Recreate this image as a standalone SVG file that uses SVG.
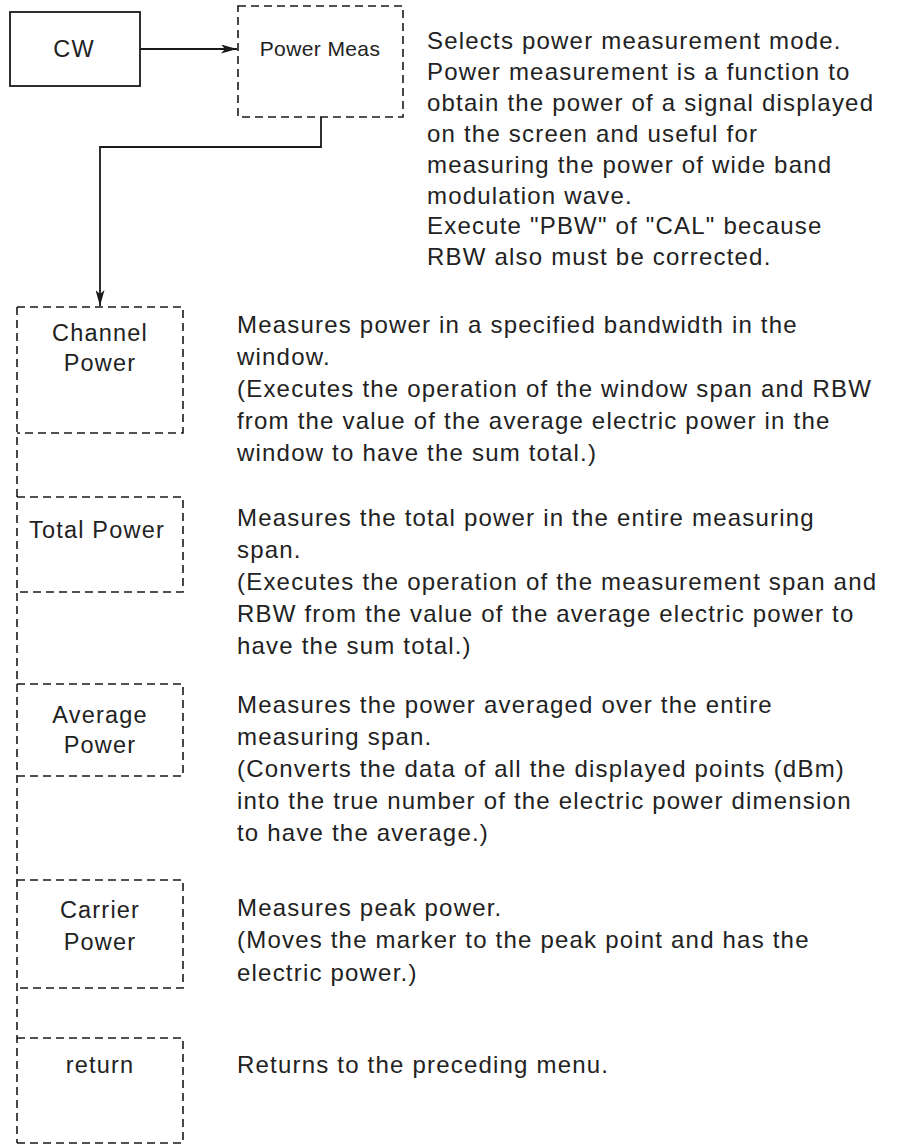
<svg xmlns="http://www.w3.org/2000/svg" width="897" height="1144" viewBox="0 0 897 1144">
<style>
.bg{fill:#fff}
.solid{fill:none;stroke:#1a1a1a;stroke-width:1.8}
.dash{fill:none;stroke:#1a1a1a;stroke-width:1.6;stroke-dasharray:8 5}
.lbl{font-family:"Liberation Sans",Arial,sans-serif;font-size:23.5px;fill:#222;text-anchor:middle;letter-spacing:1.2px}
.lbls{font-family:"Liberation Sans",Arial,sans-serif;font-size:21px;fill:#222;text-anchor:middle;letter-spacing:0.4px}
.desc{font-family:"Liberation Sans",Arial,sans-serif;font-size:24px;fill:#222;letter-spacing:1.2px}
.line{fill:none;stroke:#1a1a1a;stroke-width:1.8}
</style>
<defs>
<marker id="ah" viewBox="0 0 16 9" refX="16" refY="4.5" markerWidth="16" markerHeight="9" markerUnits="userSpaceOnUse" orient="auto">
<path d="M0,0 L16,4.5 L0,9 L4,4.5 Z" fill="#1a1a1a"/>
</marker>
</defs>
<rect class="bg" x="0" y="0" width="897" height="1144"/>

<g id="connectors">
<line class="line" x1="140" y1="49" x2="237" y2="49" marker-end="url(#ah)"/>
<polyline class="line" points="321,117 321,147 100,147 100,306" marker-end="url(#ah)"/>
<line class="dash" x1="17" y1="307" x2="17" y2="1143"/>
</g>

<g id="node-cw">
<rect class="solid" x="10" y="12" width="130" height="74"/>
<text class="lbl" x="74" y="57">CW</text>
</g>

<g id="node-power-meas">
<rect class="dash" x="238" y="6" width="165" height="111"/>
<text class="lbls" x="320" y="56">Power Meas</text>
</g>
<g id="desc-power-meas">
<text class="desc" x="427" y="49">Selects power measurement mode.</text>
<text class="desc" x="427" y="80">Power measurement is a function to</text>
<text class="desc" x="427" y="111">obtain the power of a signal displayed</text>
<text class="desc" x="427" y="142">on the screen and useful for</text>
<text class="desc" x="427" y="173">measuring the power of wide band</text>
<text class="desc" x="427" y="204">modulation wave.</text>
<text class="desc" x="427" y="234">Execute "PBW" of "CAL" because</text>
<text class="desc" x="427" y="265">RBW also must be corrected.</text>
</g>

<g id="node-channel-power">
<path class="dash" d="M17,307 H183 V433 H17"/>
<text class="lbl" x="100" y="341">Channel</text>
<text class="lbl" x="100" y="371">Power</text>
</g>
<g id="desc-channel-power">
<text class="desc" x="237" y="333">Measures power in a specified bandwidth in the</text>
<text class="desc" x="237" y="365">window.</text>
<text class="desc" x="237" y="397">(Executes the operation of the window span and RBW</text>
<text class="desc" x="237" y="429">from the value of the average electric power in the</text>
<text class="desc" x="237" y="461">window to have the sum total.)</text>
</g>

<g id="node-total-power">
<path class="dash" d="M17,497 H183 V592 H17"/>
<text class="lbl" x="97" y="538">Total Power</text>
</g>
<g id="desc-total-power">
<text class="desc" x="237" y="526">Measures the total power in the entire measuring</text>
<text class="desc" x="237" y="558">span.</text>
<text class="desc" x="237" y="590">(Executes the operation of the measurement span and</text>
<text class="desc" x="237" y="622">RBW from the value of the average electric power to</text>
<text class="desc" x="237" y="654">have the sum total.)</text>
</g>

<g id="node-average-power">
<path class="dash" d="M17,684 H183 V776 H17"/>
<text class="lbl" x="100" y="723">Average</text>
<text class="lbl" x="100" y="753">Power</text>
</g>
<g id="desc-average-power">
<text class="desc" x="237" y="713">Measures the power averaged over the entire</text>
<text class="desc" x="237" y="745">measuring span.</text>
<text class="desc" x="237" y="777">(Converts the data of all the displayed points (dBm)</text>
<text class="desc" x="237" y="809">into the true number of the electric power dimension</text>
<text class="desc" x="237" y="841">to have the average.)</text>
</g>

<g id="node-carrier-power">
<path class="dash" d="M17,880 H183 V988 H17"/>
<text class="lbl" x="100" y="918">Carrier</text>
<text class="lbl" x="100" y="950">Power</text>
</g>
<g id="desc-carrier-power">
<text class="desc" x="237" y="916">Measures peak power.</text>
<text class="desc" x="237" y="948">(Moves the marker to the peak point and has the</text>
<text class="desc" x="237" y="981">electric power.)</text>
</g>

<g id="node-return">
<path class="dash" d="M17,1038 H183 V1143 H17"/>
<text class="lbl" x="100" y="1073">return</text>
</g>
<g id="desc-return">
<text class="desc" x="237" y="1073">Returns to the preceding menu.</text>
</g>
</svg>
